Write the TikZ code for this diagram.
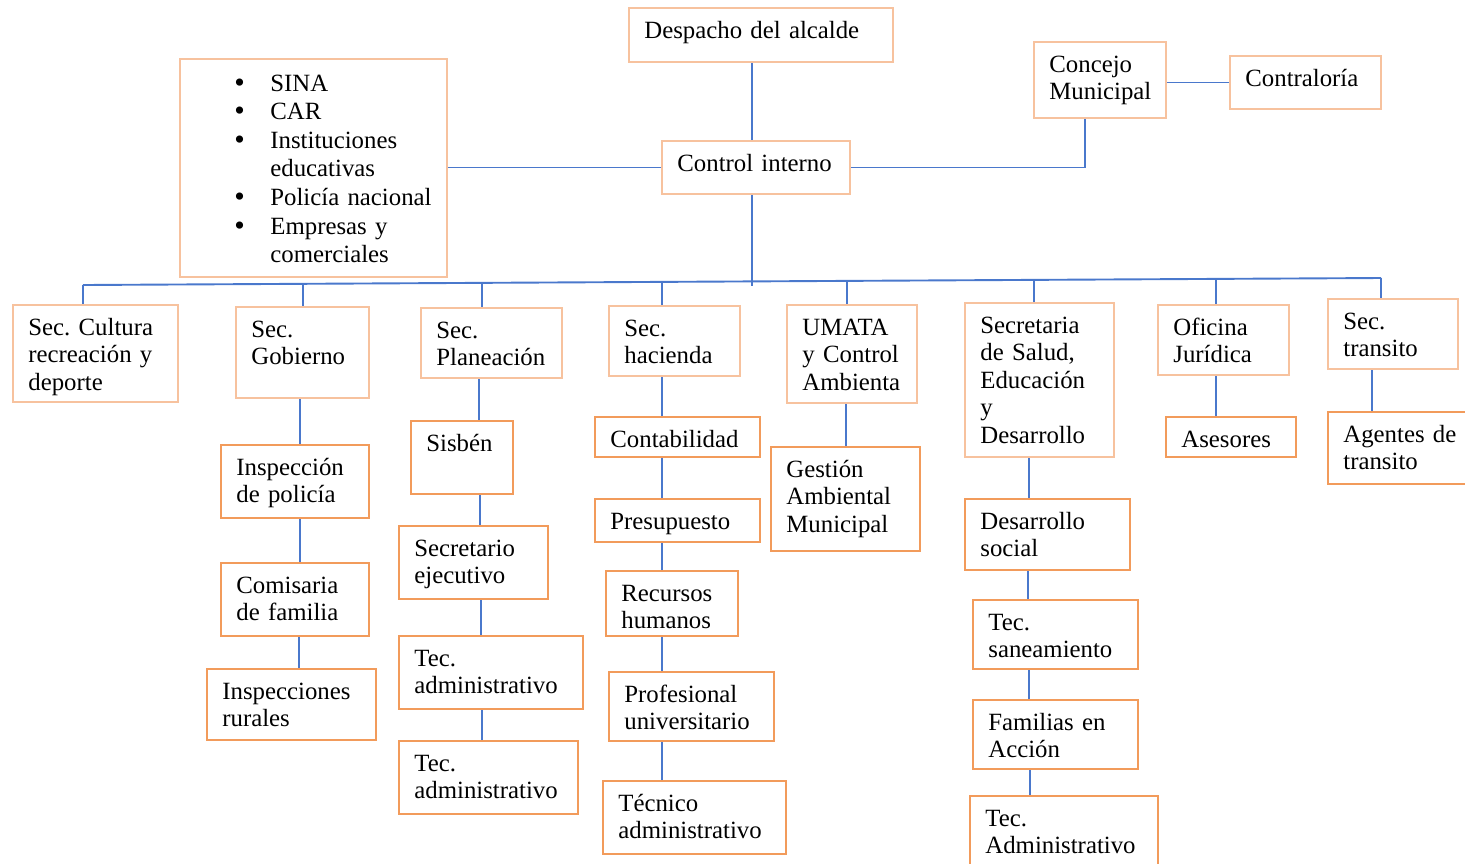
\documentclass[tikz,border=0pt]{standalone}
\usepackage{fontspec}
\setmainfont{Liberation Serif}
\frenchspacing
\definecolor{orangeL}{HTML}{F7C29E}
\definecolor{orangeD}{HTML}{F29B5B}
\definecolor{lineblue}{HTML}{4A78CC}
\tikzset{
  boxA/.style={draw=orangeL, line width=1pt, inner sep=0pt},
  boxB/.style={draw=orangeD, line width=1.1pt, inner sep=0pt},
  txt/.style={anchor=base west, inner sep=0pt, text width=160pt, align=left,
              font=\fontsize{12.4}{13.8}\selectfont\frenchspacing},
  ln/.style={draw=lineblue, line width=0.95pt},
}
\newcommand\bx[7]{%
  \node[#2, minimum width={(#5-#3)*0.5pt}, minimum height={(#6-#4)*0.5pt}] (#1) at ({(#3+#5)/2},{(#4+#6)/2}) {};
  \node[txt] (#1-t) at ({#3+15},{#4+30}) {#7};
}
\newcommand\vc[3]{\draw[ln] (#1.south -| #3,0) -- (#2.north -| #3,0);}
\newcommand\bul{\makebox[18pt][l]{\raisebox{-0.5pt}{\fontsize{15}{14}\selectfont\textbullet}}}
\begin{document}
\begin{tikzpicture}[x=0.5pt,y=-0.5pt]
\useasboundingbox (0,0) rectangle (1465,863);
% top level
\bx{desp}{boxA}{629}{8}{893}{62}{Despacho del alcalde}
\bx{ctrl}{boxA}{662}{141}{850}{194}{Control interno}
\bx{conc}{boxA}{1034}{42}{1166}{118}{Concejo\\Municipal}
\bx{contra}{boxA}{1230}{56}{1381}{109}{Contraloría}
\node[boxA, minimum width={267*0.5pt}, minimum height={218*0.5pt}] (list) at ({(180+447)/2},{(59+277)/2}) {};
\node[txt, font=\fontsize{12.4}{14.3}\selectfont] (list-t) at (234,91) {\bul SINA\\\bul CAR\\\bul Instituciones\\\hspace*{18pt}educativas\\\bul Policía nacional\\\bul Empresas y\\\hspace*{18pt}comerciales};
% first row
\bx{cult}{boxA}{13}{305}{178}{402}{Sec. Cultura\\recreación y\\deporte}
\bx{gob}{boxA}{236}{307}{369}{398}{Sec.\\Gobierno}
\bx{plan}{boxA}{421}{308}{562}{378}{Sec.\\Planeación}
\bx{hac}{boxA}{609}{306}{740}{376}{Sec.\\hacienda}
\bx{umata}{boxA}{787}{305}{917}{403}{UMATA\\y Control\\Ambienta}
\bx{salud}{boxA}{965}{303}{1114}{457}{Secretaria\\de Salud,\\Educación\\y\\Desarrollo}
\bx{ofi}{boxA}{1158}{305}{1289}{375}{Oficina\\Jurídica}
\bx{tran}{boxA}{1328}{299}{1458}{369}{Sec.\\transito}
% lower boxes
\bx{insp}{boxB}{221}{445}{369}{518}{Inspección\\de policía}
\bx{comi}{boxB}{221}{563}{369}{636}{Comisaria\\de familia}
\bx{rur}{boxB}{207}{669}{376}{740}{Inspecciones\\rurales}
\bx{sisb}{boxB}{411}{421}{513}{494}{Sisbén}
\bx{secej}{boxB}{399}{526}{548}{599}{Secretario\\ejecutivo}
\bx{teca}{boxB}{399}{636}{583}{709}{Tec.\\administrativo}
\bx{tecb}{boxB}{399}{741}{578}{814}{Tec.\\administrativo}
\bx{cont}{boxB}{595}{417}{760}{457}{Contabilidad}
\bx{pres}{boxB}{595}{499}{760}{542}{Presupuesto}
\bx{recu}{boxB}{606}{571}{738}{636}{Recursos\\humanos}
\bx{prof}{boxB}{609}{672}{774}{741}{Profesional\\universitario}
\bx{tecn}{boxB}{603}{781}{786}{854}{Técnico\\administrativo}
\bx{gest}{boxB}{771}{447}{920}{551}{Gestión\\Ambiental\\Municipal}
\bx{dsoc}{boxB}{965}{499}{1130}{570}{Desarrollo\\social}
\bx{tsan}{boxB}{973}{600}{1138}{669}{Tec.\\saneamiento}
\bx{fam}{boxB}{973}{700}{1138}{769}{Familias en\\Acción}
\bx{tadm}{boxB}{970}{796}{1158}{880}{Tec.\\Administrativo}
\bx{ases}{boxB}{1166}{417}{1296}{457}{Asesores}
\bx{agen}{boxB}{1328}{412}{1476}{484}{Agentes de\\transito}
% top connectors
\draw[ln] (desp.south -| 752,0) -- (ctrl.north -| 752,0);
\draw[ln] (ctrl.west) -- (list.east |- ctrl.west);
\draw[ln] (ctrl.east) -| (conc.south -| 1085,0);
\draw[ln] (conc.east |- contra.west) -- (contra.west);
% bus
\coordinate (b1) at (83,285);
\coordinate (b2) at (303,284);
\coordinate (b3) at (482,283);
\coordinate (b4) at (662,282);
\coordinate (bc) at (752,281.5);
\coordinate (b5) at (847,281);
\coordinate (b6) at (1034,280);
\coordinate (b7) at (1216,279);
\coordinate (b8) at (1381,278);
\draw[ln] (b1) -- (b8);
\draw[ln] (ctrl.south -| bc) -- ([yshift=-2pt]bc);
\draw[ln] (b1) -- (b1 |- cult.north);
\draw[ln] (b2) -- (b2 |- gob.north);
\draw[ln] (b3) -- (b3 |- plan.north);
\draw[ln] (b4) -- (b4 |- hac.north);
\draw[ln] (b5) -- (b5 |- umata.north);
\draw[ln] (b6) -- (b6 |- salud.north);
\draw[ln] (b7) -- (b7 |- ofi.north);
\draw[ln] (b8) -- (b8 |- tran.north);
% vertical chains
\vc{gob}{insp}{300}
\vc{insp}{comi}{300}
\vc{comi}{rur}{299}
\vc{plan}{sisb}{479}
\vc{sisb}{secej}{480}
\vc{secej}{teca}{481}
\vc{teca}{tecb}{482}
\vc{hac}{cont}{662}
\vc{cont}{pres}{662}
\vc{pres}{recu}{662}
\vc{recu}{prof}{662}
\vc{prof}{tecn}{662}
\vc{umata}{gest}{846}
\vc{salud}{dsoc}{1029}
\vc{dsoc}{tsan}{1028}
\vc{tsan}{fam}{1029}
\vc{fam}{tadm}{1030}
\vc{ofi}{ases}{1216}
\vc{tran}{agen}{1372}
\end{tikzpicture}
\end{document}
